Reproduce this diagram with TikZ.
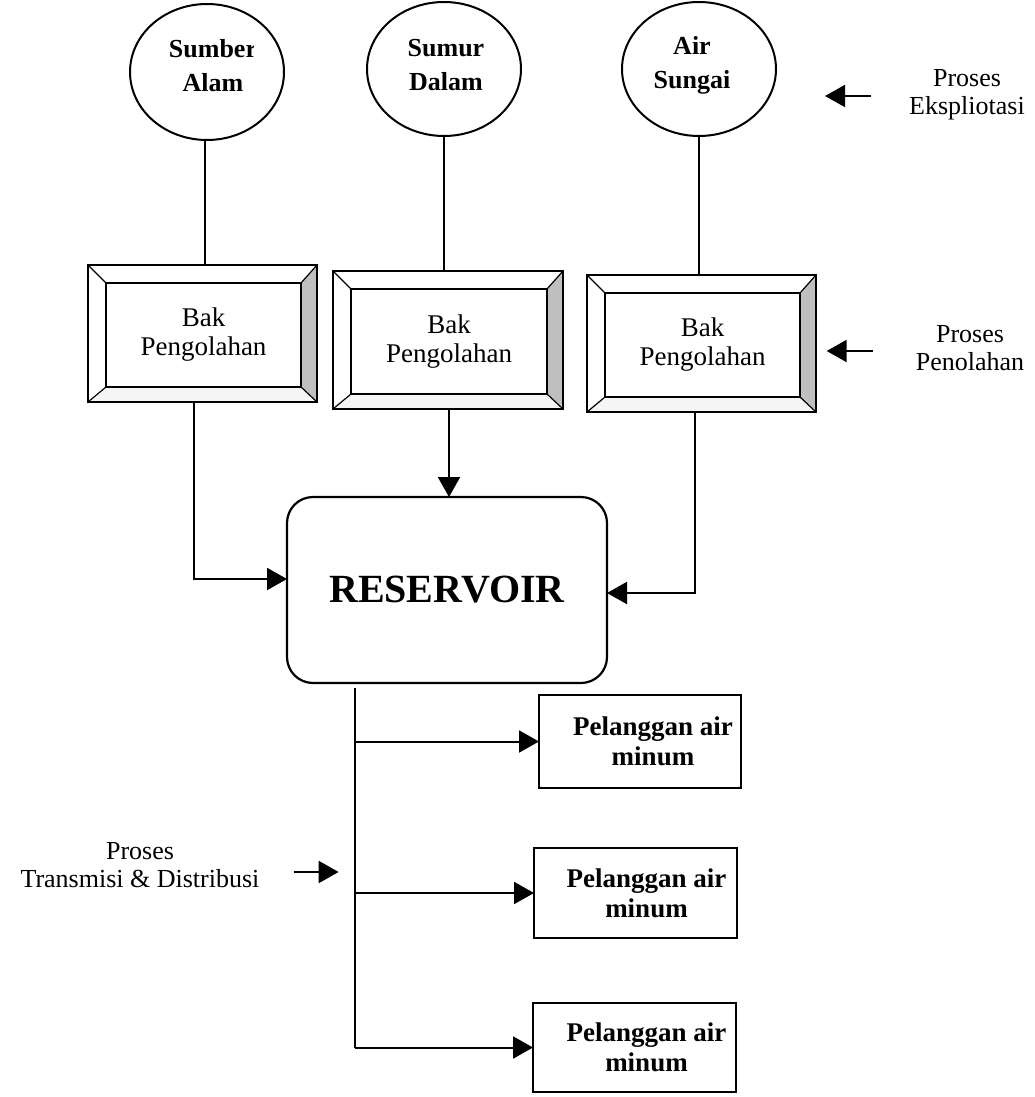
\documentclass[tikz,border=0pt]{standalone}
\usepackage{fontspec}
\setmainfont{Liberation Serif}
\usetikzlibrary{arrows.meta,shapes.geometric,calc}

% bevelled treatment tank: name, north-west x, y, width, height
\newcommand\bakbox[5]{%
  \node[inner sep=0pt, outer sep=0pt, minimum width=#4pt, minimum height=#5pt, anchor=north west] (#1) at (#2,#3) {};
  \coordinate (#1-a) at ($(#1.north west)+(18,18)$);
  \coordinate (#1-b) at ($(#1.north east)+(-16,18)$);
  \coordinate (#1-c) at ($(#1.south east)+(-16,-15)$);
  \coordinate (#1-d) at ($(#1.south west)+(18,-15)$);
  \fill[gray!50] (#1.north east) -- (#1-b) -- (#1-c) -- (#1.south east) -- cycle;
  \fill[gray!8] (#1.south west) -- (#1-d) -- (#1-c) -- (#1.south east) -- cycle;
  \draw[bevel] (#1.north west) -- (#1-a) (#1.north east) -- (#1-b)
               (#1.south east) -- (#1-c) (#1.south west) -- (#1-d);
  \draw[frame] (#1-a) rectangle (#1-c);
  \draw[frame] (#1.north west) rectangle (#1.south east);
  \node[baktext] (#1-t) at ($(#1-a)!0.5!(#1-c)$) {Bak\\Pengolahan};
}

\begin{document}
\begin{tikzpicture}[x=1pt,y=-1pt,
  wire/.style={line width=2pt},
  flow/.style={line width=2pt, -{Triangle[length=20pt,width=22pt]}},
  frame/.style={line width=2.2pt},
  bevel/.style={line width=1.2pt},
  src/.style={ellipse, draw, line width=2pt, inner sep=0pt},
  srctext/.style={align=center, inner sep=0pt, font=\fontsize{26}{34}\selectfont\bfseries},
  baktext/.style={align=center, inner sep=0pt, font=\fontsize{27}{29}\selectfont},
  cust/.style={draw, line width=2pt, inner sep=0pt, outer sep=0pt},
  custtext/.style={align=center, inner sep=0pt, font=\fontsize{27}{30}\selectfont\bfseries},
  label/.style={align=center, inner sep=0pt, font=\fontsize{26}{28}\selectfont}]

\useasboundingbox (0,0) rectangle (1034,1097);

% water sources
\node[src, minimum width=154pt, minimum height=136pt] (e1) at (207,72) {};
\node[src, minimum width=154pt, minimum height=134pt] (e2) at (444,69) {};
\node[src, minimum width=154pt, minimum height=134pt] (e3) at (699,69) {};
\begin{scope}
  \clip (100,0) rectangle (253,140);
  \node[srctext] (e1-t) at (213,66) {Sumber\\Alam};
\end{scope}
\node[srctext] (e2-t) at (446,65) {Sumur\\Dalam};
\node[srctext] (e3-t) at (692,65) {Air\\Sungai};

% treatment tanks
\bakbox{b1}{88}{265}{229}{137}
\bakbox{b2}{333}{271}{230}{138}
\bakbox{b3}{587}{275}{229}{137}

% reservoir
\node[draw, line width=2.2pt, rounded corners=26pt, inner sep=0pt, outer sep=0pt,
  minimum width=320pt, minimum height=186pt, anchor=north west,
  font=\fontsize{40}{42}\selectfont\bfseries] (res) at (287,497) {RESERVOIR};

% customers
\node[cust, anchor=north west, minimum width=202pt, minimum height=93pt] (p1) at (539,695) {};
\node[cust, anchor=north west, minimum width=203pt, minimum height=90pt] (p2) at (534,848) {};
\node[cust, anchor=north west, minimum width=203pt, minimum height=89pt] (p3) at (533,1003) {};
\node[custtext] (p1-t) at ($(p1.center)+(13,0)$) {Pelanggan air\\minum};
\node[custtext] (p2-t) at ($(p2.center)+(11,0)$) {Pelanggan air\\minum};
\node[custtext] (p3-t) at ($(p3.center)+(12,0)$) {Pelanggan air\\minum};

% process labels
\node[label] (l1) at (967,95) {Proses\\Ekspliotasi};
\node[label] (l2) at (970,348) {Proses\\Penolahan};
\node[label] (l3) at (140,865) {Proses\\Transmisi \& Distribusi};

% sources to tanks
\coordinate (b1-in) at ($(b1.north)+(2,0)$);
\draw[wire] (b1-in) -- (b1-in |- e1.south);
\draw[wire] (b2.north -| e2.south) -- (e2.south);
\draw[wire] (b3.north -| e3.south) -- (e3.south);

% tanks to reservoir
\draw[flow] ($(b1.south)+(-9,0)$) |- ($(res.west)+(0,-11)$);
\coordinate (b2-out) at ($(b2.south)+(1,0)$);
\draw[flow] (b2-out) -- (b2-out |- res.north);
\draw[flow] ($(b3.south)+(-7,0)$) |- ($(res.east)+(0,3)$);

% distribution main and branches
\coordinate (tap) at ($(res.south west)+(68,5)$);
\draw[wire] (tap) -- (tap |- p3.west);
\draw[flow] (tap |- p1.west) -- (p1.west);
\draw[flow] (tap |- p2.west) -- (p2.west);
\draw[flow] (tap |- p3.west) -- (p3.west);

% process markers
\draw[flow] ([xshift=-38pt,yshift=-1pt]l1.west) -- ++(-46,0);
\draw[flow] ([xshift=-43pt,yshift=-3pt]l2.west) -- ++(-46,0);
\draw[flow] ([xshift=34pt,yshift=-7pt]l3.east) -- ++(45,0);
\end{tikzpicture}
\end{document}
